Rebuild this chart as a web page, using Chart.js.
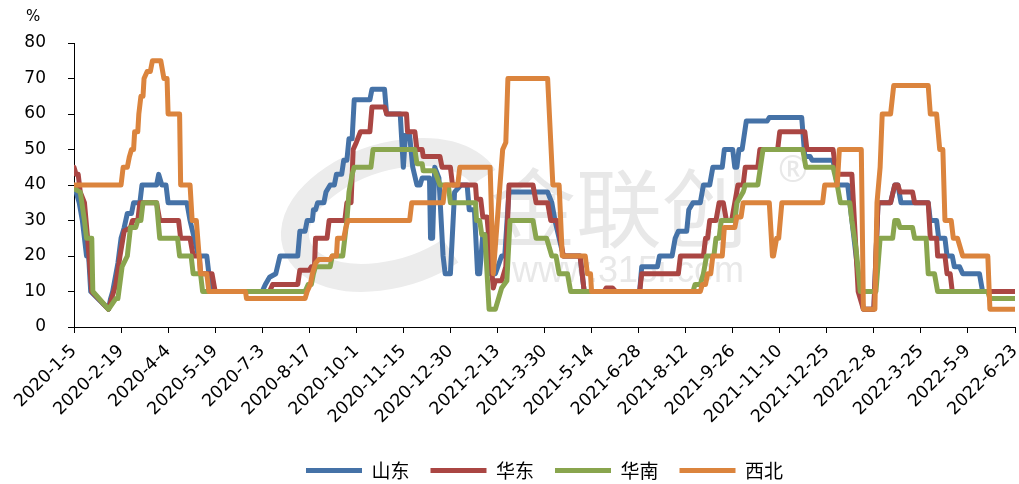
<!DOCTYPE html>
<html>
<head>
<meta charset="utf-8">
<script src="https://cdn.jsdelivr.net/npm/chart.js@4.4.1/dist/chart.umd.min.js"></script>
<style>
  html, body { margin: 0; padding: 0; background: #fff; }
</style>
</head>
<body>
<canvas id="myChart" width="1019" height="484"></canvas>
<script>
// x = days since 2020-1-5, y = %
var tickLabels = ['2020-1-5', '2020-2-19', '2020-4-4', '2020-5-19', '2020-7-3', '2020-8-17',
  '2020-10-1', '2020-11-15', '2020-12-30', '2021-2-13', '2021-3-30', '2021-5-14', '2021-6-28',
  '2021-8-12', '2021-9-26', '2021-11-10', '2021-12-25', '2022-2-8', '2022-3-25', '2022-5-9', '2022-6-23'];
var tickStep = 45;

var seriesNames = ['山东', '华东', '华南', '西北'];

var shandong = [[0,40],[3,37],[5,35],[8,30],[10,25],[12,20],[14,20],[16,10],[33,5],[35,8],[37,10],[42,18],[45,25],[48,28],[51,32],[55,32],[57,35],[63,35],[65,40],[79,40],[81,43],[84,40],[88,40],[90,35],[108,35],[111,30],[115,25],[119,20],[127,20],[129,15],[132,10],[180,10],[183,12],[187,14],[193,15],[197,20],[214,20],[216,27],[221,27],[223,30],[228,30],[229,33],[231,33],[233,35],[239,35],[241,38],[245,40],[249,40],[251,43],[256,43],[258,47],[261,47],[263,53],[266,53],[268,64],[283,64],[285,67],[297,67],[299,60],[312,60],[315,45],[317,54],[321,54],[324,45],[328,40],[331,40],[333,42],[340,42],[341,25],[343,25],[345,45],[349,42],[353,20],[355,15],[360,15],[364,38],[370,40],[376,40],[378,33],[383,33],[386,15],[388,15],[391,26],[394,26],[398,15],[403,15],[409,20],[412,20],[416,38],[453,38],[457,35],[460,30],[464,25],[468,20],[484,20],[488,10],[541,10],[543,17],[558,17],[560,20],[572,20],[575,25],[578,27],[586,27],[588,33],[592,35],[599,35],[602,40],[608,40],[611,45],[620,45],[622,50],[630,50],[632,45],[634,45],[636,50],[639,50],[643,58],[663,58],[665,59],[696,59],[699,48],[704,48],[706,47],[726,47],[730,40],[740,40],[744,30],[750,15],[755,5],[765,5],[769,35],[781,35],[785,40],[788,40],[791,35],[817,35],[819,30],[825,30],[827,25],[833,25],[835,20],[840,20],[842,17],[847,17],[850,15],[866,15],[869,10],[900,10]];

var huadong = [[0,45],[2,43],[4,43],[6,38],[10,35],[13,25],[17,10],[33,5],[36,8],[40,12],[44,20],[48,27],[54,28],[56,30],[61,30],[63,35],[79,35],[82,30],[100,30],[102,25],[111,25],[114,20],[120,20],[121,15],[132,15],[135,10],[187,10],[190,12],[214,12],[216,16],[225,16],[227,17],[230,17],[231,25],[242,25],[244,30],[259,30],[261,35],[265,35],[267,50],[270,52],[274,55],[283,55],[285,62],[297,62],[299,60],[318,60],[319,55],[326,55],[328,50],[333,50],[334,48],[350,48],[352,45],[360,45],[362,40],[384,40],[385,36],[389,36],[391,31],[395,31],[401,11],[403,13],[409,13],[413,17],[416,40],[439,40],[442,35],[453,35],[456,30],[462,30],[465,25],[468,20],[484,20],[488,10],[507,10],[509,11],[515,11],[518,10],[541,10],[543,15],[578,15],[580,20],[602,20],[604,25],[606,25],[608,30],[614,30],[617,35],[621,35],[624,30],[629,30],[632,35],[635,40],[640,40],[642,45],[654,45],[656,50],[673,50],[675,55],[699,55],[701,50],[726,50],[729,43],[744,43],[750,10],[755,5],[765,5],[769,35],[781,35],[785,40],[788,40],[790,38],[802,38],[804,35],[817,35],[819,25],[825,25],[826,20],[833,20],[835,15],[838,15],[840,10],[900,10]];

var huanan = [[0,39],[6,38],[10,30],[12,25],[17,25],[18,10],[33,5],[40,8],[42,8],[46,17],[51,20],[54,28],[59,28],[61,30],[64,30],[66,35],[79,35],[82,25],[99,25],[101,20],[112,20],[114,15],[121,15],[123,10],[221,10],[224,12],[227,12],[229,15],[231,17],[245,17],[247,20],[257,20],[259,25],[261,30],[263,38],[266,43],[268,45],[284,45],[286,50],[326,50],[328,46],[333,46],[334,44],[345,44],[350,40],[358,40],[360,35],[384,35],[385,30],[388,30],[390,26],[393,26],[397,5],[403,5],[409,11],[414,13],[417,30],[439,30],[442,25],[452,25],[457,20],[461,20],[464,15],[472,15],[475,10],[592,10],[594,12],[599,12],[602,15],[605,20],[612,20],[614,25],[617,25],[619,30],[632,30],[634,35],[640,38],[642,40],[654,40],[659,50],[697,50],[700,45],[726,45],[730,40],[733,35],[742,35],[744,30],[748,22],[752,10],[767,10],[771,25],[783,25],[785,30],[788,30],[790,28],[802,28],[804,25],[815,25],[817,15],[823,15],[826,10],[874,10],[876,8],[900,8]];

var xibei = [[0,40],[45,40],[47,45],[51,45],[53,48],[55,50],[57,50],[58,55],[61,55],[62,60],[64,65],[66,65],[67,70],[70,72],[73,72],[75,75],[83,75],[86,70],[89,70],[90,60],[101,60],[102,40],[111,40],[113,30],[117,30],[121,15],[127,15],[129,10],[164,10],[165,8],[221,8],[223,10],[226,12],[228,15],[231,18],[234,19],[245,19],[247,20],[251,20],[252,25],[258,25],[260,28],[262,30],[321,30],[323,35],[353,35],[355,40],[367,40],[369,45],[398,45],[401,15],[410,50],[413,52],[415,70],[453,70],[458,40],[464,40],[467,20],[489,20],[491,15],[494,15],[495,10],[599,10],[601,12],[604,12],[606,15],[609,15],[611,20],[620,20],[622,28],[632,28],[634,31],[638,31],[640,35],[665,35],[668,20],[669,20],[672,25],[674,25],[677,35],[716,35],[718,40],[730,40],[732,50],[753,50],[755,5],[766,5],[768,35],[771,45],[773,60],[781,60],[784,68],[817,68],[819,60],[825,60],[828,50],[831,50],[833,30],[839,30],[841,25],[845,25],[850,20],[874,20],[876,5],[900,5]];

var colors = ['#4572A7', '#AA4643', '#89A54E', '#DB843D'];

function toPoints(arr) {
  return arr.map(function (p) { return {x: p[0], y: p[1]}; });
}

// faint logo + "%" unit label
var extras = {
  id: 'extras',
  beforeDatasetsDraw: function (chart) {
    var ctx = chart.ctx;
    ctx.save();
    ctx.strokeStyle = '#ececec';
    ctx.lineWidth = 28;
    ctx.beginPath();
    ctx.ellipse(392, 215, 100, 58, -0.3, 0.35 * Math.PI, 1.95 * Math.PI);
    ctx.stroke();
    ctx.fillStyle = '#e8e8e8';
    ctx.font = '86px "Noto Sans CJK SC"';
    ctx.textBaseline = 'middle';
    ctx.fillText('金联创', 490, 208);
    ctx.font = '36px "Noto Sans"';
    ctx.fillText('®', 778, 172);
    ctx.font = '36px "Liberation Sans"';
    ctx.fillText('www.315i.com', 512, 272);
    ctx.restore();
  },
  afterDraw: function (chart) {
    var ctx = chart.ctx;
    ctx.save();
    ctx.fillStyle = '#000';
    ctx.font = '15px "DejaVu Sans"';
    ctx.textBaseline = 'middle';
    ctx.fillText('%', 26, 17);
    ctx.restore();
  }
};

var all = [shandong, huadong, huanan, xibei];
var datasets = all.map(function (arr, i) {
  return {
    label: seriesNames[i],
    data: toPoints(arr),
    borderColor: colors[i],
    backgroundColor: colors[i],
    borderWidth: 5,
    pointRadius: 0,
    tension: 0,
    borderJoinStyle: 'round',
    borderCapStyle: 'round',
    order: 3 - i
  };
});

var ctx = document.getElementById('myChart').getContext('2d');
var myChart = new Chart(ctx, {
  type: 'line',
  data: {datasets: datasets},
  plugins: [extras],
  options: {
    responsive: false,
    animation: false,
    layout: {padding: {top: 43, right: 4, left: 0, bottom: -6}},
    plugins: {
      tooltip: {enabled: false},
      legend: {
        position: 'bottom',
        fullSize: false,
        reverse: true,
        labels: {
          usePointStyle: true,
          pointStyle: 'line',
          pointStyleWidth: 56,
          boxWidth: 56,
          padding: 21,
          color: '#000',
          font: {size: 19, family: '"Noto Sans CJK SC"'}
        }
      }
    },
    scales: {
      x: {
        type: 'linear',
        min: 0,
        max: 900,
        afterBuildTicks: function (s) {
          s.ticks = tickLabels.map(function (t, i) { return {value: i * tickStep}; });
        },
        afterFit: function (s) {
          s.height = 113;
          s.paddingLeft = 0;
          s.paddingRight = 0;
        },
        ticks: {
          autoSkip: false,
          minRotation: 45,
          maxRotation: 45,
          padding: 8,
          color: '#000',
          font: {size: 17.5, family: '"DejaVu Sans"'},
          callback: function (v) { return tickLabels[Math.round(v / tickStep)]; }
        },
        grid: {drawOnChartArea: false, tickLength: 6, color: '#000'},
        border: {color: '#000', width: 1}
      },
      y: {
        min: 0,
        max: 80,
        afterFit: function (s) { s.width = 74; },
        ticks: {
          stepSize: 10,
          padding: 22,
          color: '#000',
          font: {size: 17, family: '"DejaVu Sans"'}
        },
        grid: {drawOnChartArea: false, tickLength: 6, color: '#000'},
        border: {color: '#000', width: 1}
      }
    }
  }
});
</script>
</body>
</html>
